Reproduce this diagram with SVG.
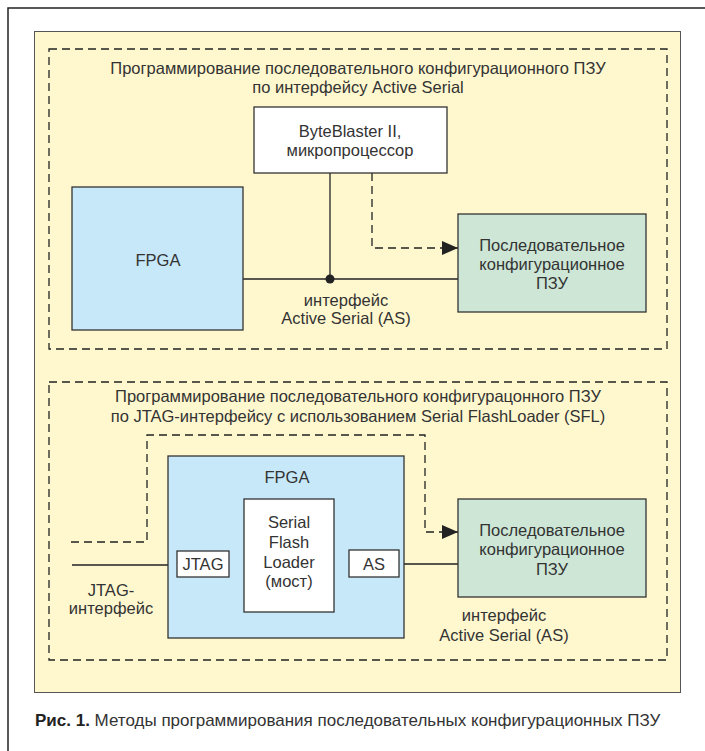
<svg xmlns="http://www.w3.org/2000/svg" width="705" height="751" viewBox="0 0 705 751">
<defs>
<style>
text{font-family:"Liberation Sans","Noto Sans",sans-serif;fill:#333;font-size:16.5px;text-anchor:middle}
.box{stroke:#333;stroke-width:1.3}
.ln{stroke:#222;stroke-width:1.3;fill:none}
.dash{stroke:#222;stroke-width:1.3;fill:none;stroke-dasharray:8,5}
.fpga{fill:#c6e8f8}
.rom{fill:#cde6d6}
.wh{fill:#fff}
</style>
<marker id="arr" viewBox="0 0 16 14" refX="16" refY="7" markerWidth="16" markerHeight="14" markerUnits="userSpaceOnUse" orient="auto">
<path d="M0,0 L16,7 L0,14 Z" fill="#222"/>
</marker>
</defs>
<rect width="705" height="751" fill="#fff"/>
<path d="M8,751 V8 H705" fill="none" stroke="#222" stroke-width="1.5"/>
<rect x="34.5" y="31.5" width="646" height="661" fill="#fff8cf" stroke="#555" stroke-width="1"/>
<g id="section1">
<rect x="49" y="49" width="618" height="300" fill="#fff4a3" class="dash"/>
<text x="358" y="74">Программирование последовательного конфигурационного ПЗУ</text>
<text x="358" y="93">по интерфейсу Active Serial</text>
</g>
<g id="section2">
<rect x="49" y="382" width="618" height="278" fill="#fff4a3" class="dash"/>
<text x="358" y="402">Программирование последовательного конфигурацонного ПЗУ</text>
<text x="358" y="422">по JTAG-интерфейсу с использованием Serial FlashLoader (SFL)</text>
</g>
<g id="connectors">
<path class="ln" d="M243,279 H458"/>
<path class="ln" d="M330,173 V279"/>
<circle cx="330" cy="279" r="4.5" fill="#222"/>
<path class="dash" d="M372,173 V248 H458" marker-end="url(#arr)"/>
<path class="ln" d="M72,565 H168"/>
<path class="ln" d="M404,564 H458"/>
<path class="dash" d="M71,542 H147 V435 H425 V532 H458" marker-end="url(#arr)"/>
</g>
<g id="byteblaster">
<rect class="box wh" x="254" y="107" width="193" height="66"/>
<text x="350" y="137">ByteBlaster II,</text>
<text x="350" y="156">микропроцессор</text>
</g>
<g id="fpga1">
<rect class="box fpga" x="72" y="187" width="171" height="143"/>
<text x="158" y="266">FPGA</text>
</g>
<g id="rom1">
<rect class="box rom" x="458" y="214" width="188" height="98"/>
<text x="552" y="251">Последовательное</text>
<text x="552" y="270">конфигурационное</text>
<text x="552" y="289">ПЗУ</text>
</g>
<g id="label-as1">
<text x="346" y="306">интерфейс</text>
<text x="346" y="324">Active Serial (AS)</text>
</g>
<g id="fpga2">
<rect class="box fpga" x="168" y="456" width="236" height="182"/>
<text x="287" y="483">FPGA</text>
</g>
<g id="sfl">
<rect class="box wh" x="244" y="499" width="90" height="113"/>
<text x="289" y="528">Serial</text>
<text x="289" y="548">Flash</text>
<text x="289" y="568">Loader</text>
<text x="289" y="587">(мост)</text>
</g>
<g id="jtag">
<rect class="box wh" x="177" y="551" width="52" height="26"/>
<text x="203" y="570">JTAG</text>
</g>
<g id="as">
<rect class="box wh" x="349" y="550" width="50" height="27"/>
<text x="374" y="570">AS</text>
</g>
<g id="rom2">
<rect class="box rom" x="458" y="499" width="188" height="98"/>
<text x="552" y="536">Последовательное</text>
<text x="552" y="555">конфигурационное</text>
<text x="552" y="575">ПЗУ</text>
</g>
<g id="label-as2">
<text x="504" y="621">интерфейс</text>
<text x="504" y="641">Active Serial (AS)</text>
</g>
<g id="label-jtag">
<text x="111" y="596">JTAG-</text>
<text x="111" y="614">интерфейс</text>
</g>
<text x="35" y="726" style="text-anchor:start;font-size:17px"><tspan font-weight="bold" fill="#222">Рис. 1.</tspan> Методы программирования последовательных конфигурационных ПЗУ</text>
</svg>
